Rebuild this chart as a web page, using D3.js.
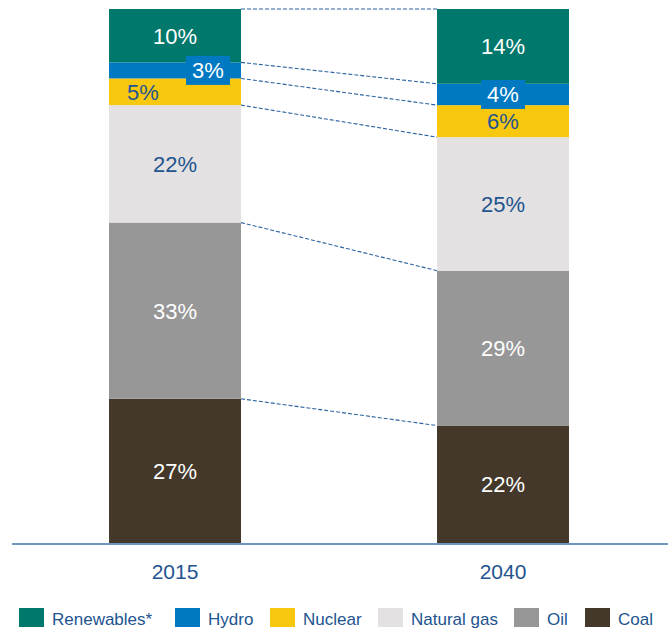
<!DOCTYPE html>
<html>
<head>
<meta charset="utf-8">
<script src="https://cdn.jsdelivr.net/npm/d3@7"></script>
<style>
  body { margin: 0; background: #fff; }
  svg { display: block; font-family: "Liberation Sans", Arial, sans-serif; }
</style>
</head>
<body>
<svg id="chart" width="670" height="631"></svg>
<script>
const years = ["2015", "2040"];
// bottom to top stacking order
const sources = ["Coal", "Oil", "Natural gas", "Nuclear", "Hydro", "Renewables*"];
const share2015 = [27, 33, 22, 5, 3, 10];
const share2040 = [22, 29, 25, 6, 4, 14];
const legendOrder = ["Renewables*", "Hydro", "Nuclear", "Natural gas", "Oil", "Coal"];

const COLORS = {
  "Renewables*": "#00786c",
  "Hydro": "#0079c2",
  "Nuclear": "#f8c80f",
  "Natural gas": "#e3e1e2",
  "Oil": "#979797",
  "Coal": "#433829"
};
const LABEL_DARK = new Set(["Nuclear", "Natural gas"]); // light fills get blue text
const TEXT_BLUE = "#22548f";
const LINE_BLUE = "#2b63a0";

// a couple of labels are nudged sideways so the thin segments stay readable
const LABEL_NUDGE = { "2015|Hydro": 33, "2015|Nuclear": -32 };

const svg = d3.select("#chart");
const baseY = 543, topY = 9;

const x = d3.scaleBand()
  .domain(years)
  .range([11, 667])
  .paddingInner(0.5976)
  .paddingOuter(0.2988);

const y = d3.scaleLinear().domain([0, 100]).range([baseY, topY]);

const table = years.map((yr, i) => {
  const row = { year: yr };
  const vals = i === 0 ? share2015 : share2040;
  sources.forEach((s, j) => (row[s] = vals[j]));
  return row;
});

const stacked = d3.stack().keys(sources)(table);

// dashed connectors between matching boundaries (skip the baseline)
const connectors = [];
stacked.forEach((layer) => {
  connectors.push({ y0: layer[0][1], y1: layer[1][1] });
});
svg.append("g")
  .selectAll("line")
  .data(connectors)
  .join("line")
  .attr("x1", x("2015") + x.bandwidth())
  .attr("x2", x("2040"))
  .attr("y1", (d) => y(d.y0))
  .attr("y2", (d) => y(d.y1))
  .attr("stroke", LINE_BLUE)
  .attr("stroke-width", 1.1)
  .attr("stroke-dasharray", "4,2");

const layers = svg.append("g")
  .selectAll("g")
  .data(stacked)
  .join("g")
  .attr("fill", (d) => COLORS[d.key]);

layers.selectAll("rect")
  .data((d) => d)
  .join("rect")
  .attr("x", (d) => x(d.data.year))
  .attr("y", (d) => y(d[1]))
  .attr("width", x.bandwidth())
  .attr("height", (d) => y(d[0]) - y(d[1]));

// labels
const labelData = [];
stacked.forEach((layer) => {
  layer.forEach((d) => {
    labelData.push({
      key: layer.key,
      year: d.data.year,
      val: d.data[layer.key],
      mid: (d[0] + d[1]) / 2
    });
  });
});

const labels = svg.append("g").selectAll("g")
  .data(labelData)
  .join("g")
  .attr("transform", (d) => {
    const dx = LABEL_NUDGE[d.year + "|" + d.key] || 0;
    return `translate(${x(d.year) + x.bandwidth() / 2 + dx},${y(d.mid)})`;
  });

// hydro segments are thin, so their label sits on a blue tab
labels.filter((d) => d.key === "Hydro")
  .append("rect")
  .attr("x", -22)
  .attr("y", -14.5)
  .attr("width", 44)
  .attr("height", 29)
  .attr("fill", COLORS["Hydro"]);

labels.append("text")
  .attr("text-anchor", "middle")
  .attr("dy", "0.36em")
  .attr("font-size", "22px")
  .attr("fill", (d) => (LABEL_DARK.has(d.key) ? TEXT_BLUE : "#fff"))
  .text((d) => d.val + "%");

// axis line + year labels
svg.append("line")
  .attr("x1", 12).attr("x2", 668)
  .attr("y1", baseY + 1).attr("y2", baseY + 1)
  .attr("stroke", "#3d74ab")
  .attr("stroke-width", 1.5);

svg.append("g")
  .selectAll("text")
  .data(years)
  .join("text")
  .attr("x", (d) => x(d) + x.bandwidth() / 2)
  .attr("y", 579)
  .attr("text-anchor", "middle")
  .attr("font-size", "21px")
  .attr("fill", TEXT_BLUE)
  .text((d) => d);

// legend
const legendX = [19, 175, 270, 378, 514, 585];
const legend = svg.append("g").selectAll("g")
  .data(legendOrder)
  .join("g")
  .attr("transform", (d, i) => `translate(${legendX[i]},608)`);

legend.append("rect")
  .attr("width", 25)
  .attr("height", 19)
  .attr("fill", (d) => COLORS[d]);

legend.append("text")
  .attr("x", 33)
  .attr("y", 17)
  .attr("font-size", "17px")
  .attr("fill", TEXT_BLUE)
  .text((d) => d);
</script>
</body>
</html>
